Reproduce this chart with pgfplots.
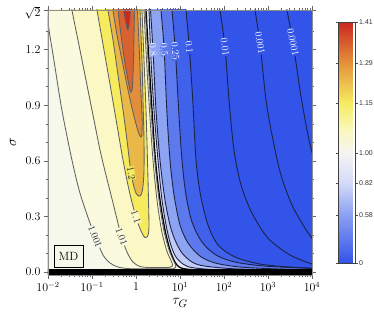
\documentclass[border=0pt]{standalone}
\usepackage{pgfplots}
\pgfplotsset{compat=1.18}
\usepackage{pgfplotstable}
\usepackage{fontspec}
\newfontfamily\cbfont{Liberation Sans}

% band colours (low -> high)
\definecolor{cB0}{RGB}{50,84,232}
\definecolor{cB1}{RGB}{64,98,234}
\definecolor{cB2}{RGB}{92,122,237}
\definecolor{cB3}{RGB}{140,164,242}
\definecolor{cB4}{RGB}{192,204,246}
\definecolor{cB5}{RGB}{232,235,250}
\definecolor{cY0}{RGB}{247,248,236}
\definecolor{cY1}{RGB}{250,250,222}
\definecolor{cY2}{RGB}{252,248,198}
\definecolor{cY3}{RGB}{246,234,94}
\definecolor{cY4}{RGB}{234,184,70}
\definecolor{cY5}{RGB}{226,142,58}
\definecolor{cY6}{RGB}{216,98,48}
\definecolor{cY7}{RGB}{204,38,34}
\definecolor{cN}{RGB}{28,34,72}

% contour lines: lt = log10(tau_G), s = sigma
\pgfplotstableread{
lt s
3.42 1.46
3.432 1.414
3.568 1.241
3.727 0.982
3.886 0.766
4.0 0.647
4.2 0.48
}\cZa
\pgfplotstableread{
lt s
2.69 1.46
2.705 1.414
2.818 1.236
2.955 0.928
3.114 0.712
3.295 0.523
3.545 0.362
3.841 0.237
4.0 0.183
4.2 0.13
}\cZb
\pgfplotstableread{
lt s
1.89 1.46
1.909 1.414
2.023 1.214
2.114 0.928
2.227 0.658
2.386 0.470
2.636 0.318
3.0 0.183
3.5 0.092
4.0 0.043
4.2 0.032
}\cZc
\pgfplotstableread{
lt s
1.12 1.46
1.136 1.414
1.21 1.214
1.29 0.928
1.364 0.604
1.466 0.416
1.636 0.254
1.864 0.146
2.25 0.081
2.818 0.043
3.5 0.027
4.0 0.021
4.2 0.019
}\cZd
\pgfplotstableread{
lt s
0.80 1.46
0.818 1.414
0.895 1.19
0.97 0.874
1.045 0.604
1.136 0.416
1.273 0.270
1.5 0.162
1.818 0.092
2.25 0.054
2.932 0.032
4.0 0.019
4.2 0.018
}\cZe
\pgfplotstableread{
lt s
0.555 1.46
0.568 1.414
0.64 1.20
0.70 0.874
0.773 0.604
0.864 0.416
1.0 0.254
1.182 0.157
1.455 0.086
1.795 0.049
2.364 0.027
3.273 0.016
4.0 0.012
4.2 0.011
}\cZf
\pgfplotstableread{
lt s
0.32 1.46
0.33 1.414
0.386 1.198
0.455 0.874
0.545 0.604
0.659 0.389
0.773 0.254
0.886 0.173
1.045 0.103
1.273 0.054
1.568 0.032
2.364 0.016
4.0 0.009
4.2 0.0085
}\cZg
\pgfplotstableread{
lt s
0.285 1.46
0.295 1.414
0.341 1.144
0.409 0.874
0.5 0.604
0.591 0.389
0.705 0.227
0.807 0.135
0.909 0.081
1.068 0.043
1.273 0.024
1.795 0.013
2.818 0.009
4.0 0.0075
4.2 0.007
}\cZh
\pgfplotstableread{
lt s
0.218 1.46
0.227 1.414
0.295 1.144
0.364 0.874
0.443 0.604
0.545 0.389
0.659 0.227
0.773 0.119
0.886 0.054
0.966 0.030
1.068 0.019
1.341 0.012
2.136 0.008
4.0 0.005
4.2 0.005
}\cZi
\pgfplotstableread{
lt s
-2.03 1.45
-2.0 1.344
-1.866 1.144
-1.684 0.874
-1.455 0.604
-1.273 0.426
-1.045 0.264
-0.909 0.183
-0.75 0.092
-0.591 0.049
-0.409 0.027
-0.136 0.018
0.3 0.0175
0.773 0.0175
0.86 0.019
0.905 0.026
0.895 0.040
0.855 0.060
0.75 0.119
0.632 0.227
0.523 0.389
0.425 0.604
0.341 0.874
0.273 1.144
0.211 1.414
0.205 1.46
}\cUa
\pgfplotstableread{
lt s
-1.47 1.46
-1.455 1.414
-1.273 1.198
-1.091 0.982
-0.909 0.766
-0.818 0.658
-0.682 0.523
-0.568 0.416
-0.455 0.308
-0.341 0.200
-0.205 0.108
-0.068 0.054
0.091 0.030
0.318 0.024
0.659 0.024
0.773 0.026
0.83 0.033
0.825 0.046
0.79 0.065
0.693 0.119
0.58 0.227
0.477 0.389
0.386 0.604
0.307 0.874
0.239 1.144
0.182 1.414
0.175 1.46
}\cUb
\pgfplotstableread{
lt s
-0.90 1.46
-0.886 1.414
-0.727 1.198
-0.568 0.982
-0.432 0.793
-0.295 0.604
-0.159 0.443
-0.045 0.335
0.068 0.248
0.148 0.205
0.205 0.186
0.25 0.189
0.284 0.210
0.295 0.254
0.284 0.389
0.261 0.604
0.227 0.874
0.182 1.144
0.136 1.414
0.13 1.46
}\cUc
\pgfplotstableread{
lt s
-0.65 1.46
-0.636 1.414
-0.523 1.252
-0.409 1.063
-0.295 0.874
-0.205 0.712
-0.136 0.577
-0.068 0.480
0 0.426
0.068 0.410
0.125 0.421
0.159 0.464
0.182 0.550
0.182 0.712
0.159 0.928
0.136 1.144
0.091 1.414
0.085 1.46
}\cUd
\pgfplotstableread{
lt s
-0.53 1.46
-0.523 1.414
-0.432 1.279
-0.318 1.144
-0.205 1.009
-0.091 0.885
0 0.799
0.068 0.745
0.114 0.729
0.135 0.750
0.14 0.820
0.11 0.982
0.075 1.198
0.034 1.414
0.03 1.46
}\cUe
\pgfplotstableread{
lt s
-0.42 1.46
-0.409 1.414
-0.341 1.279
-0.261 1.144
-0.182 1.036
-0.136 0.982
-0.102 0.971
-0.080 1.004
-0.057 1.144
-0.045 1.279
-0.034 1.414
-0.032 1.46
}\cUf
\pgfplotstableread{
lt s
-0.29 1.46
-0.284 1.414
-0.239 1.360
-0.205 1.317
-0.182 1.306
-0.159 1.328
-0.141 1.371
-0.132 1.414
-0.13 1.46
}\cUg

\pgfplotsset{
  band/.style={draw=none,fill=#1,smooth},
  bline/.style={draw=cN,line width=0.9bp,smooth},
  yline/.style={draw=black!62,line width=0.85bp,smooth},
}
\tikzset{clab/.style={font=\fontsize{10}{11}\selectfont,inner sep=0.3bp,fill=#1}}

\begin{document}
\begin{tikzpicture}
\useasboundingbox (0,0) rectangle (374bp,322bp);
\begin{axis}[
  at={(48bp,47bp)},anchor=south west,scale only axis,width=264bp,height=265bp,
  xmin=-2,xmax=4,ymin=-0.016,ymax=1.41421,
  axis background/.style={fill=cB0},
  xtick={-2,...,4},
  xticklabels={$10^{-2}$,$10^{-1}$,$1$,$10^{1}$,$10^{2}$,$10^{3}$,$10^{4}$},
  minor xtick={-1.699,-1.523,-1.398,-1.301,-1.222,-1.155,-1.097,-1.046,
    -0.699,-0.523,-0.398,-0.301,-0.222,-0.155,-0.097,-0.046,
    0.301,0.477,0.602,0.699,0.778,0.845,0.903,0.954,
    1.301,1.477,1.602,1.699,1.778,1.845,1.903,1.954,
    2.301,2.477,2.602,2.699,2.778,2.845,2.903,2.954,
    3.301,3.477,3.602,3.699,3.778,3.845,3.903,3.954},
  ytick={0,0.3,0.6,0.9,1.2,1.41421},
  yticklabels={0.0,0.3,0.6,0.9,1.2,\raisebox{-7bp}[0pt][0pt]{$\sqrt{2}$}},
  minor ytick={0.1,0.2,0.4,0.5,0.7,0.8,1.0,1.1,1.3},
  tick align=outside,major tick length=4bp,minor tick length=2.2bp,
  tick style={black!60,line width=0.5bp},
  axis line style={black!45,line width=0.6bp},
  tick label style={font=\fontsize{12}{13}\selectfont},
  xlabel={$\tau_G$},ylabel={$\sigma$},
  label style={font=\fontsize{15}{17}\selectfont},
  xlabel style={at={(axis description cs:0.5,-0.1057)},anchor=center},
  ylabel style={at={(axis description cs:-0.1326,0.5)},anchor=center},
  axis on top,
  colormap={cbmap}{rgb255(0pt)=(50,84,232); rgb255(48pt)=(138,160,242);
    rgb255(80pt)=(212,218,248); rgb255(110pt)=(244,245,242); rgb255(132pt)=(250,248,190);
    rgb255(160pt)=(246,236,96); rgb255(200pt)=(228,146,58); rgb255(241pt)=(204,38,34)},
  colorbar,point meta min=0,point meta max=241,
  colorbar style={at={(parent axis.north east)},anchor=north west,
    xshift=18bp,yshift=-12bp,scale only axis,width=17bp,height=241bp,
    ytick={0,48,80,110,160,200,241},
    yticklabels={0,0.58,0.82,1.00,1.15,1.29,1.41},
    tick label style={font=\cbfont\fontsize{7}{8}\selectfont,text=black!80,inner sep=1bp},
    major tick length=2.5bp,tick align=outside,tick style={black!70},
    axis line style={black!75,line width=0.9bp}},
]
% regions below 1 (left of each contour)
\addplot[band=cB1] table {\cZd} -- (rel axis cs:1.2,-0.2) -- (rel axis cs:-0.2,-0.2) -- (rel axis cs:-0.2,1.2) -- cycle;
\addplot[band=cB2] table {\cZe} -- (rel axis cs:1.2,-0.2) -- (rel axis cs:-0.2,-0.2) -- (rel axis cs:-0.2,1.2) -- cycle;
\addplot[band=cB3] table {\cZf} -- (rel axis cs:1.2,-0.2) -- (rel axis cs:-0.2,-0.2) -- (rel axis cs:-0.2,1.2) -- cycle;
\addplot[band=cB4] table {\cZg} -- (rel axis cs:1.2,-0.2) -- (rel axis cs:-0.2,-0.2) -- (rel axis cs:-0.2,1.2) -- cycle;
\addplot[band=cB5] table {\cZh} -- (rel axis cs:1.2,-0.2) -- (rel axis cs:-0.2,-0.2) -- (rel axis cs:-0.2,1.2) -- cycle;
\addplot[band=cY0] table {\cZi} -- (rel axis cs:1.2,-0.2) -- (rel axis cs:-0.2,-0.2) -- (rel axis cs:-0.2,1.2) -- cycle;
% regions above 1 (inside each U)
\addplot[band=cY1] table {\cUa} -- cycle;
\addplot[band=cY2] table {\cUb} -- cycle;
\addplot[band=cY3] table {\cUc} -- cycle;
\addplot[band=cY4] table {\cUd} -- cycle;
\addplot[band=cY5] table {\cUe} -- cycle;
\addplot[band=cY6] table {\cUf} -- cycle;
\addplot[band=cY7] table {\cUg} -- cycle;
% contour lines
\addplot[bline] table {\cZa};
\addplot[bline] table {\cZb};
\addplot[bline] table {\cZc};
\addplot[bline] table {\cZd};
\addplot[bline] table {\cZe};
\addplot[bline] table {\cZf};
\addplot[bline] table {\cZg};
\addplot[bline] table {\cZh};
\addplot[draw=black,line width=1.3bp,smooth] table {\cZi};
\addplot[yline] table {\cUa};
\addplot[yline] table {\cUb};
\addplot[yline] table {\cUc};
\addplot[yline] table {\cUd};
\addplot[yline] table {\cUe};
\addplot[yline] table {\cUf};
\addplot[yline] table {\cUg};
% sigma = 0
\addplot[draw=none,fill=black] coordinates {(-2.1,-0.03) (4.1,-0.03) (4.1,0.014) (-2.1,0.014)} -- cycle;
% contour labels
\node[clab=cB3,text=white,rotate=-86] at (axis cs:0.386,1.198) {0.8};
\node[clab=cB2,text=white,rotate=-85] at (axis cs:0.64,1.20) {0.5};
\node[clab=cB1,text=white,rotate=-85] at (axis cs:0.895,1.19) {0.25};
\node[clab=cB0,text=white,rotate=-85] at (axis cs:1.21,1.214) {0.1};
\node[clab=cB0,text=white,rotate=-82] at (axis cs:2.023,1.214) {0.01};
\node[clab=cB0,text=white,rotate=-81] at (axis cs:2.818,1.236) {0.001};
\node[clab=cB0,text=white,rotate=-79] at (axis cs:3.568,1.241) {0.0001};
\node[clab=cY0,text=black!85,rotate=-68] at (axis cs:-0.93,0.19) {1.001};
\node[clab=cY1,text=black!85,rotate=-70] at (axis cs:-0.33,0.19) {1.01};
\node[clab=cY2,text=black!85,rotate=-72] at (axis cs:0.0,0.297) {1.1};
\node[clab=cY3,text=black!85,rotate=-80] at (axis cs:-0.11,0.534) {1.2};
\node[draw=black,line width=0.9bp,inner sep=0pt,minimum width=29bp,minimum height=22bp,
  font=\fontsize{12}{12}\selectfont] at (axis cs:-1.534,0.086) {MD};
\end{axis}
\end{tikzpicture}
\end{document}
